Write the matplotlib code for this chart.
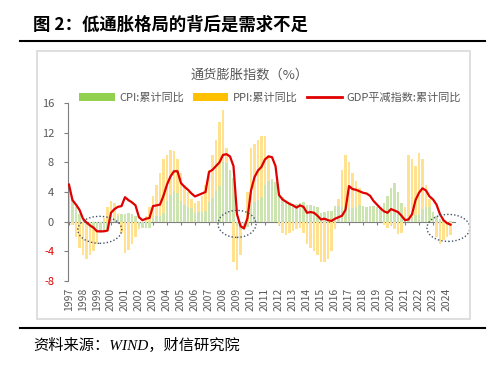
import numpy as np
import matplotlib
matplotlib.use('Agg')
import matplotlib.pyplot as plt
from matplotlib.patches import Ellipse, Patch, Rectangle
from matplotlib.lines import Line2D

plt.rcParams['font.family'] = ['Noto Sans CJK SC', 'DejaVu Sans']
plt.rcParams['axes.unicode_minus'] = False

# 季度数据, 1997Q1 起
years = list(range(1997, 2025))
cpi = [4.1, 3.0, 2.0, 1.0,  0.0, -0.5, -0.8, -1.0,  -1.3, -1.5, -1.4, -1.3,
       0.2, 0.4, 0.8, 1.0,  1.0, 1.2, 1.0, 0.7,  -0.6, -0.8, -0.8, -0.8,
       0.5, 0.7, 0.8, 1.2,  2.8, 3.6, 4.1, 3.9,  2.8, 2.3, 2.0, 1.8,
       1.2, 1.3, 1.3, 1.5,  2.7, 3.2, 4.1, 4.8,  8.0, 7.9, 7.0, 5.9,
       -0.6, -1.1, -1.1, -0.7,  2.2, 2.6, 2.9, 3.3,  5.0, 5.5, 5.7, 5.4,
       3.8, 3.3, 2.8, 2.6,  2.4, 2.4, 2.5, 2.6,  2.3, 2.3, 2.1, 2.0,
       1.2, 1.3, 1.4, 1.4,  2.1, 2.1, 2.0, 2.0,  1.8, 1.8, 2.0, 2.2,
       2.1, 2.0, 2.1, 2.1,  2.0, 2.0, 2.5, 3.5,  4.5, 5.2, 4.0, 2.5,
       0.5, 0.5, 0.6, 0.9,  1.1, 1.7, 2.0, 2.0,  1.3, 0.7, 0.4, 0.2,
       0.0, 0.1]
ppi = [0.5, -0.5, -2.0, -3.5,  -4.5, -5.0, -4.5, -4.0,  -3.0, -1.5, 0.5, 2.0,
       2.8, 2.5, 1.0, -1.5,  -4.2, -3.8, -3.0, -2.0,  -1.0, -0.5, 0.8, 2.0,
       3.5, 5.0, 6.5, 8.5,  9.0, 9.7, 9.5, 8.5,  6.5, 5.0, 4.0, 3.0,
       2.5, 2.8, 3.5, 5.0,  7.0, 9.0, 11.0, 13.5,  15.0, 10.0, 2.0, -5.5,
       -6.5, -4.5, -1.0, 4.0,  10.0, 10.5, 11.0, 11.5,  11.5, 9.0, 5.0, 2.0,
       -0.5, -1.5, -1.8, -1.5,  -1.2, -1.0, -0.8, -1.5,  -3.0, -3.5, -4.0, -4.5,
       -5.5, -5.5, -5.0, -4.0,  -1.0, 3.0, 7.0, 9.0,  8.0, 6.5, 5.5, 4.5,
       1.0, 0.0, 0.0, 0.0,  0.0, 0.0, -0.5, -0.8,  -0.5, -1.0, -1.7, -1.5,
       2.0, 9.0, 8.5, 7.5,  9.2, 8.5, 5.0, 3.0,  1.0, -2.0, -3.0, -2.5,
       -2.0, -1.8]
gdp = [5.0, 2.9, 2.3, 1.6,  0.4, -0.1, -0.5, -0.8,  -1.3, -1.3, -1.3, -1.2,
       1.2, 1.7, 2.0, 2.1,  3.3, 2.9, 2.6, 2.2,  0.6, 0.2, 0.4, 0.5,
       2.1, 2.2, 2.3, 3.5,  5.0, 6.1, 6.8, 6.8,  5.2, 4.7, 4.3, 3.8,
       3.4, 3.6, 3.8, 4.0,  6.7, 7.0, 7.5, 8.0,  9.0, 9.1, 8.8, 7.5,
       1.0, -0.6, -0.9, 0.5,  4.2, 6.0, 6.9, 7.4,  8.4, 8.8, 8.7, 7.5,
       3.6, 3.0, 2.7, 2.4,  2.2, 1.9, 2.2, 2.0,  1.2, 1.3, 1.2, 0.8,
       0.3, 0.4, 0.2, 0.1,  0.4, 0.6, 0.8, 1.6,  4.8, 4.4, 4.3, 4.1,
       3.9, 3.8, 3.5, 2.8,  2.3, 1.8, 1.4, 1.2,  1.7, 1.5, 1.3, 0.8,
       0.2, 0.3, 1.0, 2.9,  3.9, 4.5, 4.2, 3.4,  3.0, 2.3, 1.0, 0.2,
       -0.2, -0.4]

labels = ['CPI:累计同比', 'PPI:累计同比', 'GDP平减指数:累计同比']
gray = '#595959'
red = '#E00000'

fig = plt.figure(figsize=(5, 3.67), dpi=100)

# 外框和标题线
fig.patches.append(Rectangle((0.074, 0.131), 0.866, 0.730, transform=fig.transFigure,
                             fill=False, ec='#D9D9D9', lw=1.2))
fig.add_artist(Line2D([0.04, 0.97], [0.888, 0.888], color='black', lw=1.5))
fig.add_artist(Line2D([0.04, 0.97], [0.106, 0.106], color='black', lw=1.5))
fig.text(0.066, 0.932, '图 2：低通胀格局的背后是需求不足', fontsize=12.5,
         fontweight='bold', va='center', ha='left')
fig.text(0.066, 0.060, '资料来源：WIND，财信研究院', fontsize=11, style='italic',
         family=['Liberation Serif', 'Noto Sans CJK SC'], va='center', ha='left')
fig.text(0.5, 0.796, '通货膨胀指数（%）', fontsize=9.5, color=gray, ha='center', va='center')

ax = fig.add_axes([0.136, 0.2343, 0.774, 0.485])
q_ppi = 1997 + np.arange(len(ppi)) / 4
q_cpi = 1997 + np.arange(len(cpi)) / 4
q_gdp = 1997 + np.arange(len(gdp)) / 4
ax.bar(q_ppi, ppi, width=0.15, color='#FFE190', lw=0)
ax.bar(q_cpi, cpi, width=0.15, color='#CBE4B0', lw=0)
ax.plot(q_gdp, gdp, color=red, lw=1.6, zorder=4)

ax.set_xlim(1996.93, 2024.57)
ax.set_ylim(-8, 16)
yt = list(range(-8, 17, 4))
ax.set_yticks(yt)
for lbl, v in zip(ax.get_yticklabels(), yt):
    lbl.set_color(red if v < 0 else gray)
ax.tick_params(axis='y', direction='out', length=3, color='#7F7F7F', labelsize=8, pad=7)
ax.set_xticks(years)
ax.set_xticklabels([str(y) for y in years], rotation=90)
ax.tick_params(axis='x', length=0, labelsize=7.5, labelcolor=gray, pad=5)
for s in ['top', 'right', 'bottom']:
    ax.spines[s].set_visible(False)
ax.spines['left'].set_color('#7F7F7F')

# 零轴
sec = ax.secondary_xaxis(1 / 3)
sec.set_xticks(years)
sec.tick_params(axis='x', direction='out', length=2.5, color='#7F7F7F', labelbottom=False, labeltop=False)
sec.spines['bottom'].set_color('#7F7F7F')
sec.spines['top'].set_color('#7F7F7F')

# 虚线圈
for cx, cy, w in [(1999.2, -1.1, 3.14), (2009.0, -0.3, 2.71), (2024.1, -0.84, 3.07)]:
    ax.add_patch(Ellipse((cx, cy), w, 3.64, fill=False, ec='#44546A', lw=1,
                         ls=(0, (1, 1.5)), clip_on=False, zorder=5))

handles = [Patch(fc='#92D050'), Patch(fc='#FFC000'), Line2D([], [], color=red, lw=2)]
fig.legend(handles, labels, loc='center', bbox_to_anchor=(0.54, 0.733), ncol=3,
           frameon=False, fontsize=8, handlelength=3.2, columnspacing=0.8,
           handletextpad=0.4, labelcolor=gray)

fig.savefig('out.png', dpi=100)
